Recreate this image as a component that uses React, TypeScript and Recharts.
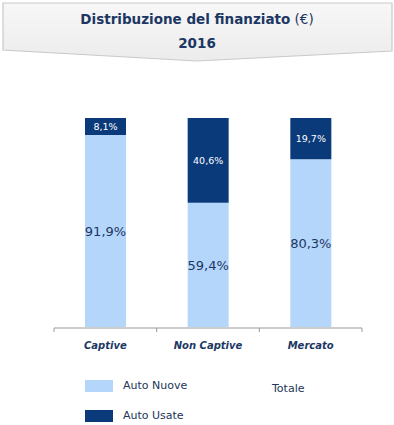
import { BarChart, Bar, XAxis, YAxis, LabelList } from "recharts";

const categories = ["Captive", "Non Captive", "Mercato"];
const autoNuove = [91.9, 59.4, 80.3];
const autoUsate = [8.1, 40.6, 19.7];
const boundaryTicks = [0, 1, 2, 3];

const TITLE = "Distribuzione del finanziato";
const YEAR = "2016";
const LIGHT = "#b5d6fb";
const DARK = "#0b3a7a";
const NAVY = "#1c3763";
const FONT = "'DejaVu Sans', Verdana, sans-serif";

const data = categories.map((name, i) => ({
  name,
  nuove: autoNuove[i],
  usate: autoUsate[i],
  edge: i,
}));

const pct = (v: number) => v.toFixed(1).replace(".", ",") + "%";

function Header() {
  return (
    <svg width={394} height={70} style={{ position: "absolute", left: 0, top: 0 }}>
      <defs>
        <linearGradient id="hdr" x1="0" y1="0" x2="0" y2="1">
          <stop offset="0%" stopColor="#f7f7f7" />
          <stop offset="100%" stopColor="#ececec" />
        </linearGradient>
      </defs>
      <polygon points="3,3 392,3 392,51 197,61 3,50" fill="url(#hdr)" stroke="#c9c9c9" strokeWidth={1.2} />
      <text x={197} y={24} textAnchor="middle" fontFamily={FONT} fontSize={13.5} fill={NAVY}>
        <tspan fontWeight="bold">{TITLE}</tspan>
        <tspan> (€)</tspan>
      </text>
      <text x={197} y={48} textAnchor="middle" fontFamily={FONT} fontSize={13.5} fontWeight="bold" fill={NAVY}>
        {YEAR}
      </text>
    </svg>
  );
}

function LegendBox() {
  const item = (color: string, label: string, top: number) => (
    <div style={{ position: "absolute", left: 85, top, display: "flex", alignItems: "center" }}>
      <div style={{ width: 28, height: 12, background: color }} />
      <span style={{ marginLeft: 10, fontFamily: FONT, fontSize: 11, color: "#22355a" }}>{label}</span>
    </div>
  );
  return (
    <>
      {item(LIGHT, "Auto Nuove", 379)}
      {item(DARK, "Auto Usate", 409)}
      <div style={{ position: "absolute", left: 272, top: 382, fontFamily: FONT, fontSize: 11, color: "#22355a" }}>
        Totale
      </div>
    </>
  );
}

export default function App() {
  return (
    <div style={{ position: "absolute", left: 0, top: 0, width: 394, height: 425, background: "#fff" }}>
      <Header />
      <BarChart
        width={394}
        height={425}
        data={data}
        margin={{ top: 118, right: 32, left: 54, bottom: 96 }}
        barCategoryGap="30%"
      >
        <XAxis
          dataKey="name"
          height={1}
          axisLine={false}
          tickLine={false}
          tick={{ fontFamily: FONT, fontSize: 10, fontWeight: "bold", fontStyle: "italic", fill: NAVY }}
          tickMargin={9}
        />
        <XAxis
          xAxisId="edges"
          dataKey="edge"
          type="number"
          domain={[0, 3]}
          ticks={boundaryTicks}
          allowDataOverflow
          height={1}
          stroke="#9a9a9a"
          tickSize={4}
          tickFormatter={() => ""}
        />
        <YAxis hide domain={[0, 100]} />
        <Bar dataKey="nuove" stackId="a" fill={LIGHT} barSize={41} isAnimationActive={false}>
          <LabelList dataKey="nuove" position="center" formatter={pct} fill={NAVY} fontSize={13} fontFamily={FONT} />
        </Bar>
        <Bar dataKey="usate" stackId="a" fill={DARK} barSize={41} isAnimationActive={false}>
          <LabelList dataKey="usate" position="center" formatter={pct} fill="#ffffff" fontSize={9.5} fontFamily={FONT} />
        </Bar>
      </BarChart>
      <LegendBox />
    </div>
  );
}
